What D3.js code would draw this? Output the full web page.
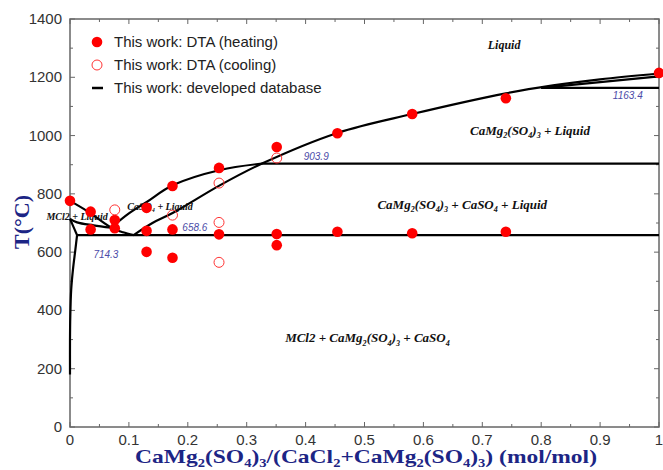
<!DOCTYPE html>
<html><head><meta charset="utf-8">
<script src="https://cdn.jsdelivr.net/npm/d3@7"></script>
<style>body{margin:0;background:#fff}svg{display:block}</style>
</head><body>
<svg id="c" width="663" height="470"></svg>
<script>
// ---- data ----
const xTicks = [0,0.1,0.2,0.3,0.4,0.5,0.6,0.7,0.8,0.9,1];
const xTickLabels = ["0","0.1","0.2","0.3","0.4","0.5","0.6","0.7","0.8","0.9","1"];
const yTicks = [0,200,400,600,800,1000,1200,1400];
const heatX = [0,0.035,0.035,0.076,0.076,0.13,0.13,0.13,0.174,0.174,0.174,0.253,0.253,0.351,0.351,0.351,0.454,0.454,0.581,0.581,0.74,0.74,1];
const heatT = [776,739,678,710,682,752,673,601,827,678,581,889,661,961,662,624,1008,670,1074,665,1128,670,1215];
const coolX = [0.076,0.174,0.253,0.253,0.253,0.351];
const coolT = [745,727,837,702,565,923];
const curveA = [[0,776],[0.03,740],[0.07,684],[0.09,668],[0.108,658.6]];
const curveB = [[0,714.3],[0.012,702],[0.04,692],[0.07,684]];
const curveC = [[0.07,684],[0.1,733],[0.131,773],[0.175,830],[0.255,882],[0.326,903.9]];
const curveD = [[0.108,658.6],[0.14,700],[0.175,735],[0.255,830],[0.326,904],[0.454,1009],[0.581,1074],[0.74,1145],[0.82,1172],[0.9,1193],[1,1213]];
const curveE = [[0.80,1163.4],[1,1203]];
const solvus1 = [[0,714.3],[0.012,658.6]];
const solvus2 = [[0.012,658.6],[0.009,607],[0.005,540],[0.002,470],[0.0005,380],[0,300],[0,180]];
const isotherms = [{T:658.6,x0:0.012,x1:1},{T:903.9,x0:0.326,x1:1},{T:1163.4,x0:0.80,x1:1}];
const tempLabels = [{t:"903.9",x:0.418,T:903.9,dy:-4},{t:"1163.4",x:0.947,T:1163.4,dy:11},{t:"658.6",x:0.212,T:658.6,dy:-4},{t:"714.3",x:0.061,T:658.6,dy:23}];
const phaseLabels = [
 {t:"Liquid",x:0.737,T:1297,s:12},
 {t:"CaMg_2(SO_4)_3 + Liquid",x:0.781,T:1003,s:13},
 {t:"CaMg_2(SO_4)_3 + CaSO_4 + Liquid",x:0.666,T:748,s:13},
 {t:"MCl2 + CaMg_2(SO_4)_3 + CaSO_4",x:0.505,T:290,s:13},
 {t:"CaSO_4 + Liquid",x:0.153,T:746,s:10},
 {t:"MCl2 + Liquid",x:0.012,T:711,s:10}
];
const legendLabels = ["This work: DTA (heating)","This work: DTA (cooling)","This work: developed database"];

// ---- chart ----
const svg = d3.select("#c");
const L=70,R=659,T0=19,B=427;
const x = d3.scaleLinear().domain([0,1]).range([L,R]);
const y = d3.scaleLinear().domain([0,1400]).range([B,T0]);
const axisCol="#666";

svg.append("rect").attr("x",L).attr("y",T0).attr("width",R-L).attr("height",B-T0)
  .attr("fill","none").attr("stroke",axisCol).attr("stroke-width",1.5);

const xMinor = d3.range(0.05,1,0.1);
const yMinor = d3.range(100,1400,200);
const tk = svg.append("g").attr("stroke",axisCol).attr("stroke-width",1);
xTicks.forEach(v=>{tk.append("line").attr("x1",x(v)).attr("x2",x(v)).attr("y1",B).attr("y2",B-5);
  tk.append("line").attr("x1",x(v)).attr("x2",x(v)).attr("y1",T0).attr("y2",T0+5);});
xMinor.forEach(v=>{tk.append("line").attr("x1",x(v)).attr("x2",x(v)).attr("y1",B).attr("y2",B-3);
  tk.append("line").attr("x1",x(v)).attr("x2",x(v)).attr("y1",T0).attr("y2",T0+3);});
yTicks.forEach(v=>{tk.append("line").attr("y1",y(v)).attr("y2",y(v)).attr("x1",L).attr("x2",L+5);
  tk.append("line").attr("y1",y(v)).attr("y2",y(v)).attr("x1",R).attr("x2",R-5);});
yMinor.forEach(v=>{tk.append("line").attr("y1",y(v)).attr("y2",y(v)).attr("x1",L).attr("x2",L+3);
  tk.append("line").attr("y1",y(v)).attr("y2",y(v)).attr("x1",R).attr("x2",R-3);});

const tickFont = "'Liberation Sans', Arial, sans-serif";
svg.append("g").selectAll("text").data(xTicks).join("text")
  .attr("x",d=>x(d)).attr("y",B+18).attr("text-anchor","middle")
  .attr("font-family",tickFont).attr("font-size",15).attr("fill","#333")
  .text((d,i)=>xTickLabels[i]);
svg.append("g").selectAll("text").data(yTicks).join("text")
  .attr("x",L-8).attr("y",d=>y(d)+5).attr("text-anchor","end")
  .attr("font-family",tickFont).attr("font-size",15).attr("fill","#333")
  .text(d=>d);

function rich(sel, str, size, shift){
  const sh = shift || 0.25;
  const parts = str.split(/_(\d)/);
  let sub=false;
  parts.forEach((p,i)=>{
    if(p==="") return;
    if(i%2===1){
      sel.append("tspan").attr("font-size",size*0.62).attr("dy",size*sh).text(p);
      sub=true;
    } else {
      const t = sel.append("tspan").text(p);
      if(sub){ t.attr("dy",-size*sh); sub=false; }
    }
  });
}

const line = d3.line().x(d=>x(d[0])).y(d=>y(d[1])).curve(d3.curveCatmullRom.alpha(0.5));
const lg = svg.append("g").attr("fill","none").attr("stroke","#000").attr("stroke-width",2.2);
[curveA,curveB,curveC,curveD,curveE,solvus1,solvus2].forEach(c=>lg.append("path").attr("d",line(c)));
isotherms.forEach(h=>lg.append("line").attr("x1",x(h.x0)).attr("x2",x(h.x1)).attr("y1",y(h.T)).attr("y2",y(h.T)));

svg.append("g").selectAll("text").data(tempLabels).join("text")
  .attr("x",d=>x(d.x)).attr("y",d=>y(d.T)+d.dy).attr("text-anchor","middle")
  .attr("font-family",tickFont).attr("font-style","italic").attr("font-size",10).attr("fill","#4b4ba8")
  .text(d=>d.t);

phaseLabels.forEach(p=>{
  const t = svg.append("text").attr("x",x(p.x)).attr("y",y(p.T)).attr("text-anchor","middle")
    .attr("font-family","'Liberation Serif','Times New Roman',serif").attr("font-weight","bold")
    .attr("font-style","italic").attr("font-size",p.s).attr("fill","#111");
  rich(t,p.t,p.s);
});

svg.append("g").selectAll("circle").data(heatX).join("circle")
  .attr("cx",d=>x(d)).attr("cy",(d,i)=>y(heatT[i])).attr("r",5.3).attr("fill","#f00");
svg.append("g").selectAll("circle").data(coolX).join("circle")
  .attr("cx",d=>x(d)).attr("cy",(d,i)=>y(coolT[i])).attr("r",5).attr("fill","none")
  .attr("stroke","#f33").attr("stroke-width",1);

const lgd = svg.append("g");
lgd.append("circle").attr("cx",97).attr("cy",42).attr("r",5.3).attr("fill","#f00");
lgd.append("circle").attr("cx",97).attr("cy",65).attr("r",5).attr("fill","none").attr("stroke","#f33").attr("stroke-width",1);
lgd.append("line").attr("x1",92).attr("x2",103).attr("y1",88).attr("y2",88).attr("stroke","#000").attr("stroke-width",2.5);
lgd.selectAll("text").data(legendLabels).join("text")
  .attr("x",114).attr("y",(d,i)=>47+i*23)
  .attr("font-family",tickFont).attr("font-size",15).attr("fill","#222").text(d=>d);

const navy="#1c2585";
const xt = svg.append("text").attr("x",135).attr("y",463).attr("text-anchor","start")
  .attr("font-family","'Liberation Serif','Times New Roman',serif").attr("font-weight","bold")
  .attr("font-size",19.5).attr("fill",navy)
  .attr("textLength",462).attr("lengthAdjust","spacingAndGlyphs");
rich(xt,"CaMg_2(SO_4)_3/(CaCl_2+CaMg_2(SO_4)_3) (mol/mol)",19.5,0.2);
svg.append("text").attr("transform","translate(29,222) rotate(-90)").attr("text-anchor","middle")
  .attr("font-family","'Liberation Serif','Times New Roman',serif").attr("font-weight","bold")
  .attr("font-size",22).attr("fill",navy).text("T(°C)");
</script>
</body></html>
